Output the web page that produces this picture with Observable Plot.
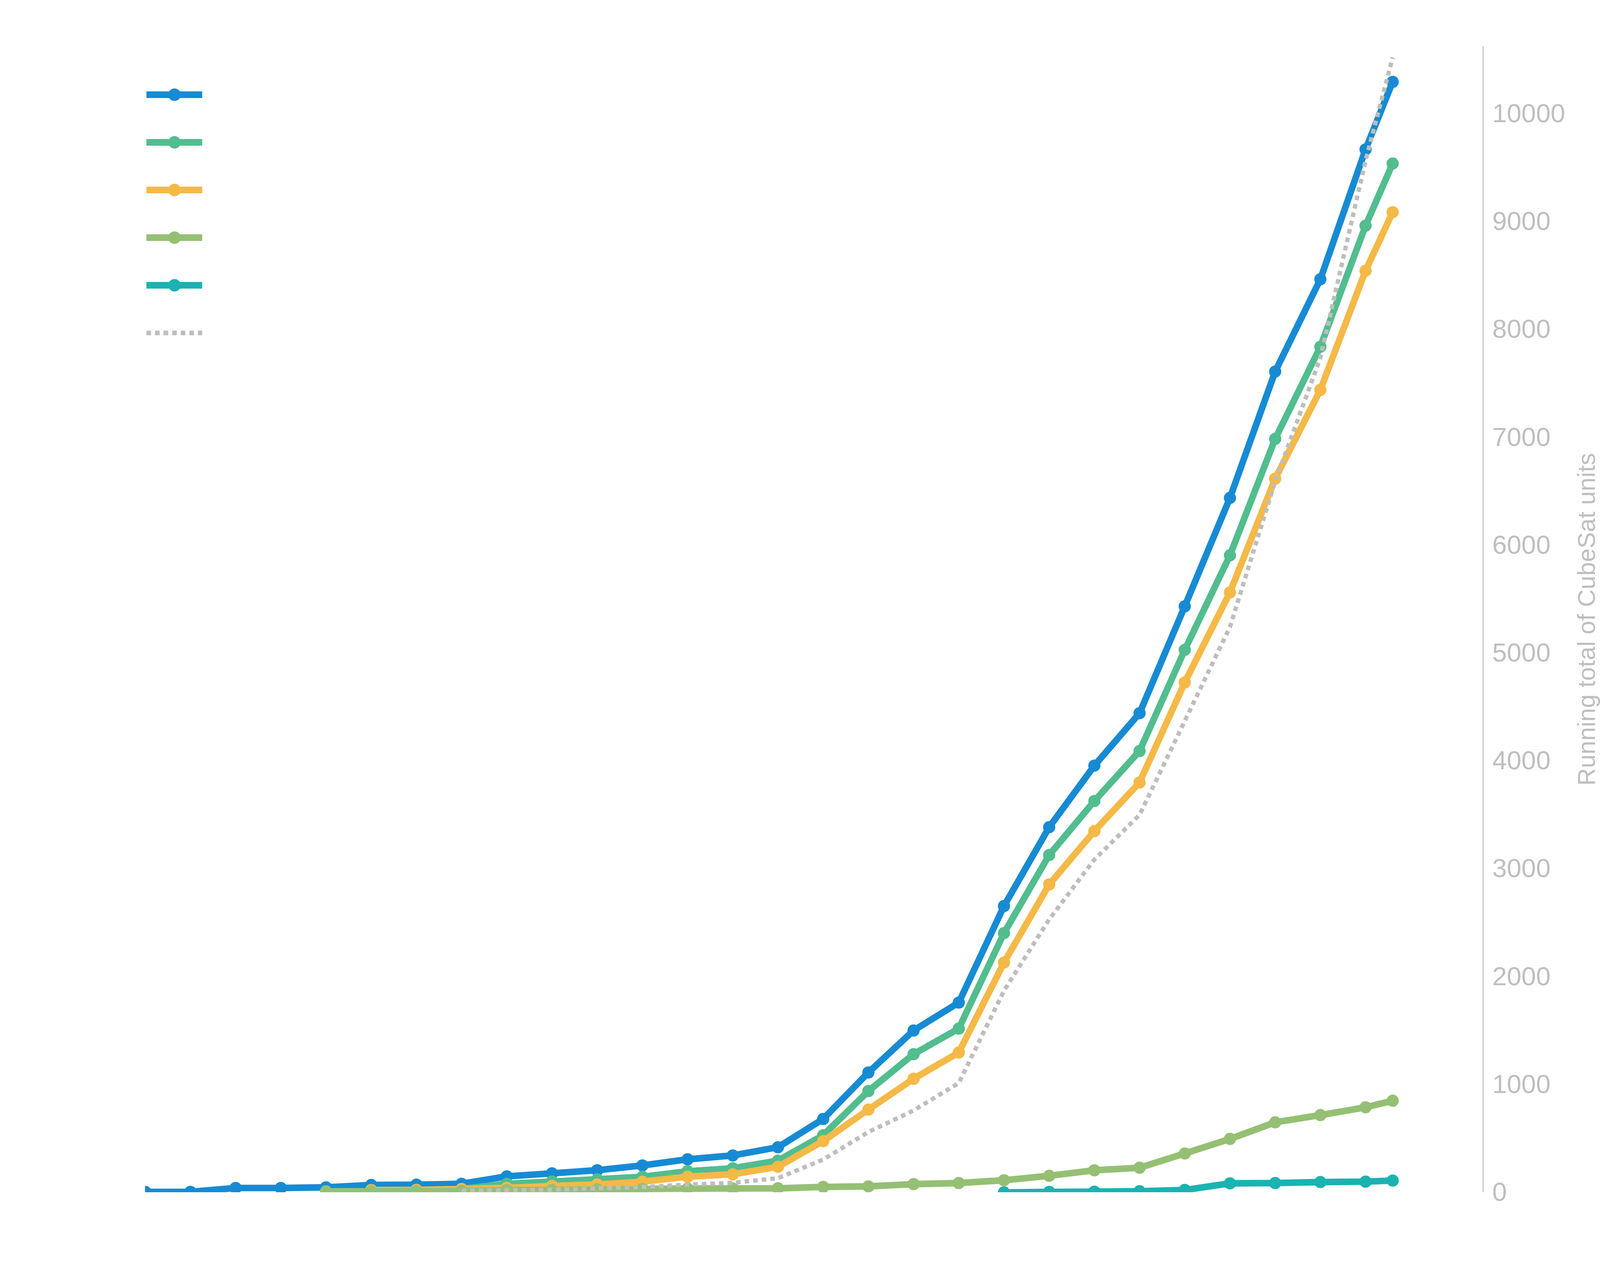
<!DOCTYPE html>
<html>
<head>
<meta charset="utf-8">
<script src="https://cdn.jsdelivr.net/npm/d3@7"></script>
<script src="https://cdn.jsdelivr.net/npm/@observablehq/plot@0.6"></script>
<style>
html, body { margin: 0; padding: 0; background: #fff; overflow: hidden; width: 100%; height: 100%; }
#wrap { position: relative; width: 100vw; height: 100vh; }
#wrap svg { position: absolute; left: 0; top: 0; max-width: none !important; }
svg { font-family: "Liberation Sans", Arial, sans-serif; }
</style>
</head>
<body>
<div id="wrap"></div>
<script>
// x positions (periods; last point is a partial year)
const periods = [1990, 1991, 1992, 1993, 1994, 1995, 1996, 1997, 1998, 1999,
  2000, 2001, 2002, 2003, 2004, 2005, 2006, 2007, 2008, 2009,
  2010, 2011, 2012, 2013, 2014, 2015, 2016, 2017, 2017.6];

const seriesNames = ["Series 1", "Series 2", "Series 3", "Series 4", "Series 5", "Series 6"];
const seriesColors = ["#168BD4", "#52BD8E", "#F5B947", "#95C073", "#1AB3B1", "#BEBEBE"];

const series1 = [5, 5, 41, 41, 47, 69, 72, 80, 149, 177, 206, 250, 307, 343, 419, 681, 1112, 1501, 1760, 2655, 3386, 3957, 4443, 5434, 6439, 7610, 8466, 9670, 10296];
const series2 = [null, null, null, null, null, null, null, 33, 80, 101, 122, 145, 196, 224, 295, 530, 940, 1282, 1519, 2404, 3128, 3629, 4092, 5030, 5907, 6986, 7840, 8963, 9539];
const series3 = [null, null, null, null, null, 22, 24, 31, 42, 60, 74, 99, 146, 168, 238, 476, 768, 1054, 1297, 2131, 2855, 3350, 3801, 4728, 5563, 6617, 7440, 8545, 9088];
const series4 = [null, null, null, null, 10, 10, 13, 14, 22, 23, 28, 32, 36, 37, 38, 51, 56, 77, 87, 113, 154, 205, 229, 361, 496, 650, 717, 789, 850];
const series5 = [null, null, null, null, null, null, null, null, null, null, null, null, null, null, null, null, null, null, null, 0, 5, 7, 11, 23, 84, 87, 96, 100, 110];
const series6 = [null, null, null, null, null, null, null, 15, 20, 26, 39, 51, 72, 89, 132, 305, 560, 760, 1014, 1870, 2531, 3086, 3500, 4370, 5243, 6591, 7737, 9565, 10523];

const yTicks = [0, 1000, 2000, 3000, 4000, 5000, 6000, 7000, 8000, 9000, 10000];
const yLabel = "Running total of CubeSat units";
const xDomain = [1990, 2019.6];
const yDomain = [0, 10626];

// layout adapts to the actual window (designed for 5737 x 3288)
const W = window.innerWidth || 5737, H = window.innerHeight || 3288;
const sx = W / 5737, sy = H / 3288;
const s = Math.min(sx, sy);          // text
const sw = Math.sqrt(sx * sy);       // strokes and dots

const allSeries = [series1, series2, series3, series4, series5, series6];
const rowsFor = (vals) => periods.map((p, i) => ({period: p, value: vals[i]}));
const dash = `${14 * sw},${12 * sw}`;

const marks = [];
allSeries.forEach((vals, k) => {
  const rows = rowsFor(vals);
  const dotted = k === 5;
  marks.push(Plot.line(rows, {
    x: "period", y: "value",
    stroke: seriesColors[k],
    strokeWidth: (dotted ? 13 : 20) * sw,
    strokeDasharray: dotted ? dash : null,
    strokeLinejoin: "miter",
    strokeLinecap: "butt",
    clip: true
  }));
  if (!dotted) {
    marks.push(Plot.dot(rows.filter(d => d.value != null), {
      x: "period", y: "value", r: 18.5 * sw, fill: seriesColors[k], stroke: "none", clip: true
    }));
  }
});

// right axis line
marks.push(Plot.ruleX([xDomain[1]], {y1: yDomain[0], y2: yDomain[1], stroke: "#C0C0C0", strokeWidth: 3 * sw}));
marks.push(Plot.axisY(yTicks, {
  anchor: "right", tickSize: 0, tickPadding: 33 * sx, label: null,
  fontSize: 94 * s, fill: "#BFBFBF", tickFormat: d => String(d)
}));
marks.push(Plot.text([yLabel], {
  frameAnchor: "right", dx: 401 * sx, rotate: -90, textAnchor: "middle", lineAnchor: "bottom",
  fontSize: 88 * s, fill: "#BFBFBF", text: d => d
}));

const chart = Plot.plot({
  width: W, height: H,
  marginLeft: 520 * sx, marginRight: 420 * sx, marginTop: 118 * sy, marginBottom: 235 * sy,
  x: {domain: xDomain, axis: null},
  y: {domain: yDomain, axis: null},
  style: {fontFamily: "Liberation Sans, Arial, sans-serif", background: "transparent", overflow: "visible"},
  marks
});
document.getElementById("wrap").appendChild(chart);

// legend (swatches only)
const legendRows = seriesNames.map((name, k) => ({name, color: seriesColors[k], dotted: k === 5}));
const legendMarks = [];
legendRows.forEach(d => {
  legendMarks.push(Plot.ruleY([d], {
    y: "name", x1: 0, x2: 1, stroke: d.color,
    strokeWidth: (d.dotted ? 14 : 20) * sw,
    strokeDasharray: d.dotted ? dash : null
  }));
  if (!d.dotted) legendMarks.push(Plot.dot([d], {y: "name", x: 0.5, r: 19 * sw, fill: d.color}));
});
const legend = Plot.plot({
  width: W, height: H,
  marginLeft: 525 * sx, marginRight: W - 725 * sx, marginTop: 241 * sy, marginBottom: H - 853 * sy,
  x: {domain: [0, 1], axis: null},
  y: {type: "point", domain: seriesNames, axis: null, padding: 0},
  style: {background: "transparent"},
  marks: legendMarks
});
document.getElementById("wrap").appendChild(legend);
</script>
</body>
</html>
